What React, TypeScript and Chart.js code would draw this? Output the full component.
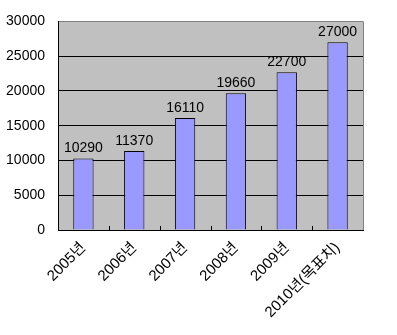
import React, { useEffect, useRef } from "react";
import { Chart, registerables } from "chart.js";

Chart.register(...registerables);

const categories = ["2005년", "2006년", "2007년", "2008년", "2009년", "2010년(목표치)"];
const values = [10290, 11370, 16110, 19660, 22700, 27000];
const yTicks = [0, 5000, 10000, 15000, 20000, 25000, 30000];

const FONT = "'Liberation Sans', 'Noto Sans CJK KR', sans-serif";

const framePlugin = {
  id: "frame",
  beforeDraw(chart: any) {
    const { ctx, chartArea: a } = chart;
    ctx.save();
    ctx.fillStyle = "#C0C0C0";
    ctx.fillRect(a.left, a.top, a.right - a.left, a.bottom - a.top);
    ctx.restore();
  },
  afterDatasetsDraw(chart: any) {
    const { ctx, chartArea: a } = chart;
    ctx.save();
    ctx.strokeStyle = "#808080";
    ctx.lineWidth = 1;
    ctx.beginPath();
    ctx.moveTo(Math.round(a.right) + 0.5, a.top);
    ctx.lineTo(Math.round(a.right) + 0.5, a.bottom);
    ctx.stroke();
    const xs = chart.scales.x;
    ctx.strokeStyle = "#000";
    const n = categories.length;
    for (let i = 1; i < n; i++) {
      const x = Math.round((xs.getPixelForValue(i - 1) + xs.getPixelForValue(i)) / 2) + 0.5;
      ctx.beginPath();
      ctx.moveTo(x, a.bottom);
      ctx.lineTo(x, a.bottom - 4);
      ctx.stroke();
    }
    const meta = chart.getDatasetMeta(0);
    ctx.fillStyle = "#000";
    ctx.font = "14px " + FONT;
    ctx.textAlign = "center";
    ctx.textBaseline = "bottom";
    meta.data.forEach((bar: any, i: number) => {
      ctx.fillText(String(values[i]), bar.x, bar.y - 3);
    });
    ctx.restore();
  },
};

export default function App() {
  const ref = useRef<HTMLCanvasElement>(null);
  useEffect(() => {
    document.body.style.margin = "0";
    const chart = new Chart(ref.current!, {
      type: "bar",
      data: {
        labels: categories,
        datasets: [
          {
            data: values,
            backgroundColor: "#9999FF",
            borderColor: "#000",
            borderWidth: 1,
            barPercentage: 0.4,
            categoryPercentage: 1,
          },
        ],
      },
      options: {
        animation: false,
        responsive: false,
        maintainAspectRatio: false,
        layout: { padding: { top: 16, right: 34, left: 0, bottom: 0 } },
        plugins: { legend: { display: false }, tooltip: { enabled: false } },
        scales: {
          x: {
            grid: { display: false, drawTicks: false },
            border: { color: "#000", width: 1 },
            ticks: {
              color: "#000",
              font: { family: FONT, size: 15 },
              maxRotation: 45,
              minRotation: 45,
              padding: 9,
              autoSkip: false,
            },
            afterFit(scale: any) {
              scale.height = 105;
            },
          },
          y: {
            min: 0,
            max: 30000,
            afterBuildTicks(scale: any) {
              scale.ticks = yTicks.map((v) => ({ value: v }));
            },
            grid: {
              drawTicks: false,
              color: (c: any) => (c.tick && c.tick.value === 30000 ? "#808080" : "#000"),
              lineWidth: 1,
            },
            border: { color: "#000", width: 1 },
            ticks: {
              color: "#000",
              font: { family: FONT, size: 14 },
              padding: 13,
              callback: (v: any) => String(v),
            },
            afterFit(scale: any) {
              scale.width = 58;
            },
          },
        },
      },
      plugins: [framePlugin],
    });
    return () => chart.destroy();
  }, []);
  return <canvas ref={ref} width={397} height={335} style={{ display: "block", width: 397, height: 335 }} />;
}
